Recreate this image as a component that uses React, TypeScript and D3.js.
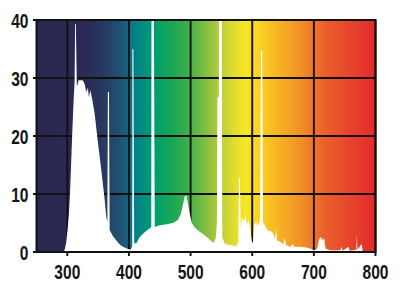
import React from "react";
import * as d3 from "d3";

// wavelength (nm) and relative intensity of the white emission spectrum
const wavelengths = [
  250, 292.3, 295.5, 298, 300.4, 302.8, 304.8, 308, 310.2, 311.8, 312.6, 313.8,
  315.5, 318.3, 324.8, 328, 330.8, 333.4, 335, 337.3, 340.6, 344.3, 349.2, 355.2,
  360.6, 363.3, 365, 365.8, 367.6, 368.7, 373.6, 379.6, 385, 390.3, 398.5, 402.8,
  405.3, 405.6, 407.2, 408.5, 412, 417.5, 425.6, 433.7, 436.2, 436.5, 440.4, 441.9,
  450, 461.4, 471.1, 479.3, 484.1, 487.4, 490.6, 493, 495.5, 498.8, 502, 507, 515,
  526.4, 534, 537.8, 541, 542.7, 543.5, 545.8, 546.2, 550.6, 551.5, 555.7, 563.8,
  573.6, 577.3, 578.5, 580, 581.4, 583.3, 586.6, 589, 591.5, 594.6, 597.2, 599.6,
  601.2, 602.8, 606, 609.3, 612.5, 614.2, 616.3, 617.5, 620.7, 624, 628.9, 633.7,
  637, 638.6, 640.2, 645, 650, 653, 654.9, 661.4, 666.3, 668, 677.6, 685.8, 693.9,
  700.4, 705.3, 708.5, 711.7, 714.2, 716.7, 719.1, 726.4, 742.7, 745.1, 746.7,
  756.5, 758.1, 769, 769.8, 770.7, 777.6, 779.3, 783.3, 800,
];
const intensities = [
  0, 0, 0.3, 1.5, 3.8, 7, 11.2, 20.5, 26.2, 29.3, 39.3, 39.3,
  28.5, 29.6, 29.6, 29, 27.6, 28.3, 26.7, 27.9, 26.2, 23.9, 19.3, 14.1,
  9, 6, 5.2, 27.6, 27.6, 3.8, 2.8, 2, 1.3, 0.9, 0.5, 0.4,
  1, 35, 35, 1.5, 1.5, 2.6, 3.4, 4.1, 4.3, 42, 42, 4.3,
  4.6, 4.8, 5, 5.5, 6.5, 8, 9.6, 9.8, 8.5, 6.5, 5, 4.2, 3.5,
  2.6, 1.8, 1.6, 2.5, 5, 26.7, 26.7, 42, 42, 2.5, 1.4, 1.2,
  1, 1.5, 12.8, 12.8, 4, 6, 5.2, 6.2, 4.8, 5.5, 3.5, 1.7,
  1.7, 4.5, 5.2, 4.5, 5.5, 34.7, 34.7, 5, 4.6, 3.8, 3.6, 3.3,
  2.2, 4.2, 2, 1.8, 1.3, 2.4, 1.2, 0.9, 1.4, 0.9, 0.9, 0.8, 0.6,
  0.3, 0.5, 2.2, 2.6, 2, 2.4, 0.6, 0.3, 0.3, 0.9, 0.2,
  0.9, 0.2, 0.4, 3.2, 0.4, 1.4, 0.1, 0, 0,
];

const xTicks = [300, 400, 500, 600, 700, 800];
const yTicks = [0, 10, 20, 30, 40];

// spectrum background colour stops (nm -> colour)
const gradientStops: [number, string][] = [
  [250, "#2a2652"],
  [330, "#2b2a55"],
  [360, "#283a60"],
  [385, "#1f5273"],
  [399, "#19627e"],
  [401, "#047889"],
  [425, "#00907f"],
  [445, "#00a06a"],
  [470, "#1aa655"],
  [495, "#3dae4b"],
  [520, "#78bc43"],
  [545, "#b4cb3a"],
  [570, "#e0dc2d"],
  [590, "#f7e722"],
  [605, "#fbd923"],
  [640, "#f7b523"],
  [680, "#f18f27"],
  [700, "#ee742a"],
  [720, "#ea5e2c"],
  [800, "#e3292d"],
];

const W = 400;
const H = 294;
const left = 36.5;
const right = 375.5;
const top = 20;
const bottom = 252;

export default function App() {
  const x = d3.scaleLinear().domain([250, 800]).range([left, right]);
  const y = d3.scaleLinear().domain([0, 40]).range([bottom, top]);
  const data = wavelengths.map((w, i) => ({ w, v: intensities[i] }));
  const area = d3
    .area<{ w: number; v: number }>()
    .x((d) => x(d.w))
    .y0(y(0))
    .y1((d) => y(d.v))
    .curve(d3.curveLinear);
  const font = "'Liberation Sans', Arial, sans-serif";
  const span = 800 - 250;
  return (
    <svg
      width={W}
      height={H}
      style={{ position: "absolute", left: 0, top: 0, background: "#fff" }}
    >
      <defs>
        <linearGradient id="spec" x1="0" x2="1" y1="0" y2="0">
          {gradientStops.map(([nm, c], i) => (
            <stop key={i} offset={`${((nm - 250) / span) * 100}%`} stopColor={c} />
          ))}
        </linearGradient>
        <clipPath id="plot">
          <rect x={left} y={top} width={right - left} height={bottom - top} />
        </clipPath>
      </defs>
      <rect x={left} y={top} width={right - left} height={bottom - top} fill="url(#spec)" />
      {/* grid */}
      <g stroke="#111" strokeWidth={1.9}>
        {xTicks.map((t) => (
          <line key={"gx" + t} x1={x(t)} x2={x(t)} y1={top} y2={bottom + 4} />
        ))}
        {yTicks.map((t) => (
          <line key={"gy" + t} x1={left - 3.5} x2={right} y1={y(t)} y2={y(t)} />
        ))}
      </g>
      <path d={area(data) || ""} fill="#fff" clipPath="url(#plot)" />
      <rect
        x={left}
        y={top}
        width={right - left}
        height={bottom - top}
        fill="none"
        stroke="#111"
        strokeWidth={2}
      />
      {xTicks.map((t) => (
        <g key={"tx" + t} transform={`translate(${x(t)},${278.5}) scale(0.74,1)`}>
          <text textAnchor="middle" fontFamily={font} fontWeight="bold" fontSize={21} fill="#151515">
            {t}
          </text>
        </g>
      ))}
      {yTicks.map((t) => (
        <g key={"ty" + t} transform={`translate(${28.5},${y(t) + 7.5}) scale(0.74,1)`}>
          <text textAnchor="end" fontFamily={font} fontWeight="bold" fontSize={21} fill="#151515">
            {t}
          </text>
        </g>
      ))}
    </svg>
  );
}
